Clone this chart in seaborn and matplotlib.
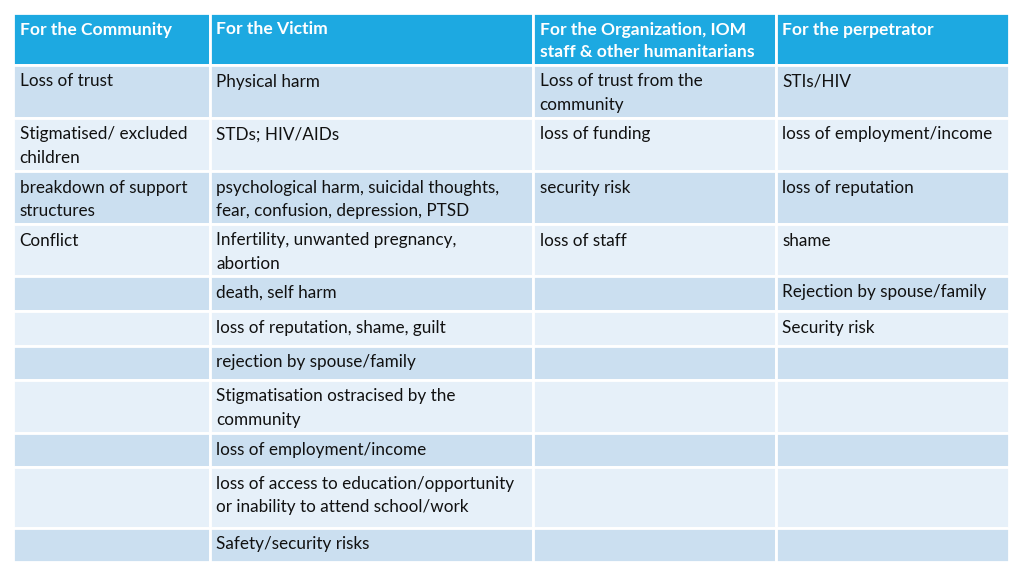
import matplotlib
matplotlib.use("Agg")
import matplotlib.pyplot as plt
import seaborn as sns

sns.set_theme(style="white")
plt.rcParams['font.family'] = ['Lato', 'DejaVu Sans']

# table contents
headers = ["For the Community", "For the Victim",
           "For the Organization, IOM\nstaff & other humanitarians",
           "For the perpetrator"]
community = ["Loss of trust", "Stigmatised/ excluded\nchildren",
             "breakdown of support\nstructures", "Conflict",
             "", "", "", "", "", "", ""]
victim = ["Physical harm", "STDs; HIV/AIDs",
          "psychological harm, suicidal thoughts,\nfear, confusion, depression, PTSD",
          "Infertility, unwanted pregnancy,\nabortion",
          "death, self harm", "loss of reputation, shame, guilt",
          "rejection by spouse/family",
          "Stigmatisation ostracised by the\ncommunity",
          "loss of employment/income",
          "loss of access to education/opportunity\nor inability to attend school/work",
          "Safety/security risks"]
organization = ["Loss of trust from the\ncommunity", "loss of funding",
                "security risk", "loss of staff",
                "", "", "", "", "", "", ""]
perpetrator = ["STIs/HIV", "loss of employment/income",
               "loss of reputation", "shame",
               "Rejection by spouse/family", "Security risk",
               "", "", "", "", ""]
columns = [community, victim, organization, perpetrator]

# layout in pixels
col_edges = [13, 210, 533, 776, 1009]
row_edges = [13, 65, 118, 171, 224, 276, 311, 346, 380, 433, 467, 528, 562]

header_color = "#1DA9E1"
dark_row = "#CBDFF0"
light_row = "#E6F0F9"

fig = plt.figure(figsize=(10.24, 5.76), dpi=100)
ax = fig.add_axes([0, 0, 1, 1])
ax.set_xlim(0, 1024)
ax.set_ylim(576, 0)
ax.axis("off")

tops = row_edges[:-1]
heights = [b - t for t, b in zip(row_edges[:-1], row_edges[1:])]
colors = [header_color] + [dark_row if i % 2 == 0 else light_row
                           for i in range(len(tops) - 1)]

for c in range(4):
    left = col_edges[c]
    width = col_edges[c + 1] - left
    ax.bar([left] * len(tops), heights, width=width, bottom=tops,
           align="edge", color=colors, edgecolor="white", linewidth=2)
    ax.text(left + 6.5, tops[0] + 8.5, headers[c], color="white",
            fontsize=12.6, fontweight="bold", va="top", ha="left",
            linespacing=1.5)
    for r, txt in enumerate(columns[c]):
        if txt:
            ax.text(left + 6.5, tops[r + 1] + 8.5, txt, color="#111111",
                    fontsize=12.3, va="top", ha="left", linespacing=1.55)

fig.savefig("out.png", dpi=100)
